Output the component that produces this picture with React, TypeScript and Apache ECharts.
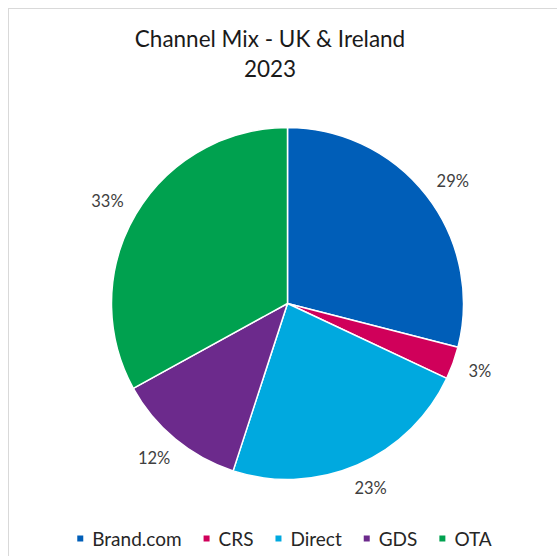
import React, { useEffect, useRef } from "react";
import * as echarts from "echarts";

const categories = ["Brand.com", "CRS", "Direct", "GDS", "OTA"];
const shares = [29, 3, 23, 12, 33];
const colors = ["#005EB8", "#D0005A", "#00A9DF", "#6C2A8C", "#00A14F"];
const titleLines = ["Channel Mix - UK & Ireland", "2023"];

export default function App() {
  const ref = useRef<HTMLDivElement>(null);
  useEffect(() => {
    const chart = echarts.init(ref.current as HTMLDivElement, null, { renderer: "svg" });
    const data = categories.map((name, i) => ({
      name,
      value: shares[i],
      itemStyle: { color: colors[i] },
    }));
    const center = [278.5, 294.5];
    chart.setOption({
      animation: false,
      backgroundColor: "#ffffff",
      graphic: titleLines.map((t, i) => ({
        type: "text",
        x: 261,
        y: 29 + i * 30,
        silent: true,
        style: {
          text: t,
          textAlign: "center",
          textVerticalAlign: "middle",
          fontFamily: "Lato",
          fontSize: 22.5,
          fill: "#1a1a1a",
        },
      })),
      legend: {
        data: categories,
        left: "center",
        top: 515,
        icon: "rect",
        itemWidth: 8,
        itemHeight: 8,
        itemGap: 20,
        selectedMode: false,
        textStyle: {
          fontFamily: "Lato",
          fontSize: 19,
          color: "#262626",
          padding: [0, 0, 0, 3],
        },
      },
      series: [
        {
          type: "pie",
          center,
          radius: [0, 176],
          startAngle: 90,
          clockwise: true,
          data,
          silent: true,
          label: { show: false },
          labelLine: { show: false },
          itemStyle: { borderColor: "#ffffff", borderWidth: 1.5 },
        },
        {
          type: "pie",
          center,
          radius: [170, 210],
          startAngle: 90,
          clockwise: true,
          silent: true,
          data: categories.map((name, i) => ({ name, value: shares[i] })),
          itemStyle: { color: "rgba(0,0,0,0)" },
          label: {
            show: true,
            position: "inside",
            formatter: (p: any) => `${p.value}%`,
            fontFamily: "Lato",
            fontSize: 16.5,
            color: "#404040",
          },
          labelLine: { show: false },
          labelLayout: (params: any) => {
            const r = params.labelRect;
            const vx = r.x + r.width / 2 - center[0];
            const vy = r.y + r.height / 2 - center[1];
            const len = Math.hypot(vx, vy) || 1;
            return {
              dx: (vx / len) * (r.width / 2),
              dy: (vy / len) * (r.height / 2 - 1),
            };
          },
        },
      ],
    });
    return () => chart.dispose();
  }, []);
  return (
    <div
      style={{
        position: "fixed",
        left: 8,
        top: 8,
        width: 549,
        height: 548,
        borderTop: "1px solid #d9d9d9",
        borderLeft: "1px solid #d9d9d9",
        background: "#fff",
      }}
    >
      <div ref={ref} style={{ width: 549, height: 548 }} />
    </div>
  );
}
